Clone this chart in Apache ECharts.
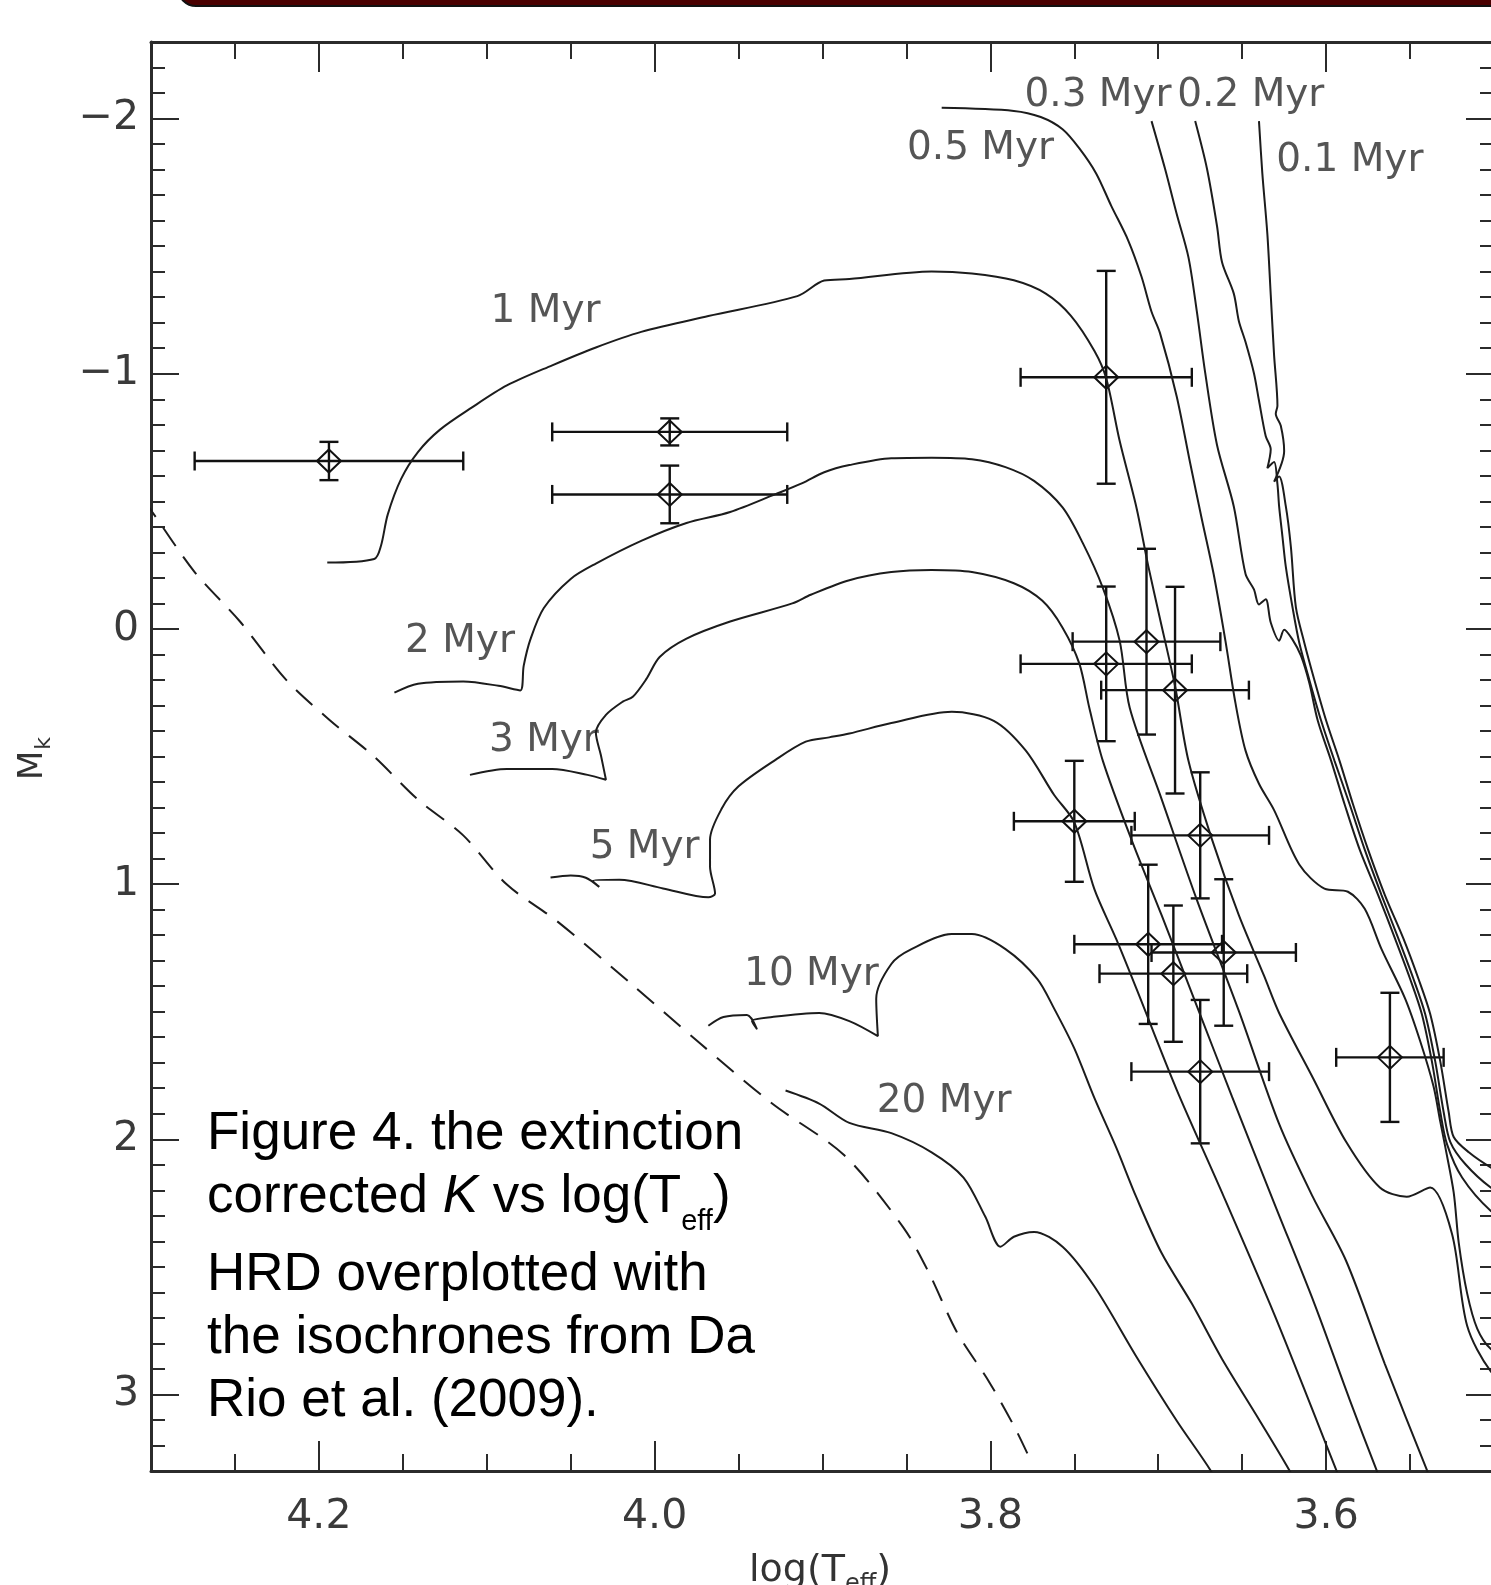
<html>
<head>
<meta charset="utf-8">
<title>HRD isochrones</title>
<script src="https://cdn.jsdelivr.net/npm/echarts@6.0.0/dist/echarts.min.js"></script>
<style>
html, body { margin: 0; padding: 0; background: #fff; }
#container { width: 1491px; height: 1585px; }
</style>
</head>
<body>
<div id="container"></div>
<script type="text/javascript">
// axis ranges (x runs backwards, y is magnitude so it runs downwards)
var xRange = [3.5, 4.3];
var yRange = [-2.3, 3.3];

// isochrones [log(Teff), M_K]
var myr01 = [[3.640,-1.990],[3.638,-1.785],[3.635,-1.547],[3.633,-1.310],[3.631,-1.073],[3.629,-0.875],[3.630,-0.843],[3.627,-0.796],[3.625,-0.697],[3.631,-0.577],[3.628,-0.597],[3.624,-0.480],[3.621,-0.322],[3.618,-0.084],[3.613,0.054],[3.607,0.200],[3.600,0.359],[3.592,0.517],[3.584,0.687],[3.575,0.865],[3.565,1.043],[3.554,1.213],[3.545,1.371],[3.538,1.509],[3.532,1.695],[3.527,1.893],[3.524,1.991],[3.515,2.051],[3.502,2.110],[3.490,2.150]];
var myr02 = [[3.678,-1.990],[3.671,-1.804],[3.665,-1.579],[3.662,-1.437],[3.655,-1.314],[3.652,-1.207],[3.648,-1.124],[3.643,-1.002],[3.640,-0.895],[3.636,-0.756],[3.633,-0.704],[3.635,-0.630],[3.631,-0.654],[3.629,-0.567],[3.628,-0.480],[3.626,-0.361],[3.624,-0.243],[3.620,-0.084],[3.616,0.054],[3.610,0.200],[3.603,0.359],[3.595,0.517],[3.586,0.687],[3.577,0.865],[3.567,1.043],[3.557,1.213],[3.548,1.371],[3.541,1.509],[3.535,1.695],[3.530,1.893],[3.526,2.011],[3.517,2.098],[3.502,2.189],[3.490,2.230]];
var myr03 = [[3.704,-1.990],[3.696,-1.804],[3.689,-1.626],[3.682,-1.456],[3.677,-1.243],[3.672,-1.002],[3.665,-0.721],[3.655,-0.480],[3.648,-0.215],[3.643,-0.155],[3.640,-0.096],[3.636,-0.116],[3.633,-0.025],[3.628,0.046],[3.625,0.003],[3.620,0.042],[3.615,0.105],[3.610,0.212],[3.605,0.359],[3.597,0.517],[3.589,0.687],[3.580,0.865],[3.569,1.043],[3.559,1.213],[3.550,1.371],[3.543,1.509],[3.537,1.695],[3.532,1.893],[3.528,2.019],[3.519,2.150],[3.502,2.280],[3.490,2.320]];
var myr05 = [[3.829,-2.042],[3.786,-2.030],[3.770,-2.006],[3.757,-1.958],[3.747,-1.883],[3.737,-1.785],[3.728,-1.658],[3.718,-1.524],[3.710,-1.381],[3.704,-1.243],[3.699,-1.160],[3.689,-0.911],[3.681,-0.650],[3.674,-0.429],[3.667,-0.215],[3.660,0.046],[3.654,0.291],[3.648,0.477],[3.640,0.607],[3.631,0.710],[3.616,0.923],[3.601,1.018],[3.587,1.030],[3.577,1.097],[3.567,1.255],[3.553,1.448],[3.544,1.615],[3.536,1.793],[3.532,1.931],[3.529,2.031],[3.524,2.209],[3.521,2.406],[3.516,2.604],[3.510,2.742],[3.502,2.821],[3.490,2.860]];
var myr1 = [[4.195,-0.260],[4.167,-0.274],[4.163,-0.326],[4.159,-0.448],[4.151,-0.588],[4.141,-0.693],[4.128,-0.780],[4.109,-0.867],[4.088,-0.954],[4.061,-1.033],[4.035,-1.103],[4.008,-1.164],[3.968,-1.226],[3.915,-1.304],[3.899,-1.365],[3.884,-1.371],[3.835,-1.401],[3.811,-1.393],[3.786,-1.366],[3.767,-1.314],[3.752,-1.227],[3.738,-1.089],[3.731,-0.982],[3.723,-0.737],[3.713,-0.476],[3.706,-0.248],[3.699,-0.041],[3.690,0.224],[3.682,0.517],[3.668,0.825],[3.652,1.122],[3.637,1.359],[3.628,1.505],[3.608,1.758],[3.588,2.011],[3.568,2.189],[3.552,2.225],[3.538,2.189],[3.525,2.371],[3.516,2.731],[3.502,2.909],[3.490,2.960]];
var myr2 = [[4.155,0.250],[4.141,0.215],[4.114,0.206],[4.093,0.223],[4.080,0.241],[4.078,0.145],[4.074,0.041],[4.066,-0.082],[4.050,-0.196],[4.035,-0.256],[4.008,-0.345],[3.981,-0.415],[3.955,-0.458],[3.928,-0.528],[3.912,-0.571],[3.899,-0.614],[3.884,-0.642],[3.859,-0.669],[3.835,-0.671],[3.811,-0.665],[3.791,-0.634],[3.774,-0.580],[3.757,-0.476],[3.745,-0.337],[3.733,-0.161],[3.723,0.046],[3.717,0.309],[3.698,0.667],[3.677,1.062],[3.652,1.497],[3.628,1.940],[3.608,2.225],[3.588,2.478],[3.565,2.881],[3.540,3.296],[3.535,3.376]];
var myr3 = [[4.110,0.572],[4.088,0.549],[4.061,0.549],[4.040,0.572],[4.029,0.591],[4.032,0.495],[4.035,0.406],[4.029,0.337],[4.019,0.285],[4.013,0.266],[4.005,0.197],[3.997,0.110],[3.981,0.038],[3.955,-0.029],[3.918,-0.100],[3.907,-0.134],[3.884,-0.191],[3.859,-0.223],[3.835,-0.231],[3.811,-0.223],[3.786,-0.179],[3.769,-0.110],[3.757,-0.005],[3.747,0.136],[3.741,0.311],[3.733,0.517],[3.716,0.825],[3.698,1.122],[3.677,1.478],[3.656,1.834],[3.631,2.249],[3.607,2.644],[3.586,3.020],[3.570,3.296],[3.565,3.375]];
var myr5 = [[4.062,0.974],[4.050,0.966],[4.041,0.975],[4.033,1.011],[4.037,0.987],[4.021,0.983],[3.995,1.017],[3.968,1.052],[3.964,1.037],[3.967,0.932],[3.967,0.825],[3.960,0.704],[3.950,0.617],[3.928,0.513],[3.910,0.442],[3.896,0.425],[3.884,0.410],[3.859,0.369],[3.823,0.325],[3.798,0.360],[3.779,0.476],[3.762,0.651],[3.750,0.758],[3.738,1.021],[3.725,1.216],[3.713,1.410],[3.689,1.806],[3.662,2.209],[3.631,2.684],[3.607,3.079],[3.594,3.296],[3.589,3.375]];
var myr10 = [[3.968,1.555],[3.959,1.521],[3.945,1.513],[3.939,1.569],[3.942,1.537],[3.930,1.521],[3.902,1.505],[3.884,1.537],[3.867,1.596],[3.868,1.449],[3.859,1.313],[3.847,1.255],[3.823,1.196],[3.811,1.196],[3.791,1.255],[3.772,1.372],[3.762,1.488],[3.750,1.644],[3.738,1.839],[3.725,2.033],[3.713,2.228],[3.698,2.446],[3.680,2.644],[3.662,2.861],[3.640,3.098],[3.622,3.296],[3.616,3.375]];
var myr20 = [[3.922,1.809],[3.902,1.860],[3.884,1.936],[3.859,1.976],[3.835,2.051],[3.816,2.150],[3.803,2.304],[3.794,2.421],[3.786,2.382],[3.774,2.363],[3.757,2.421],[3.738,2.577],[3.713,2.852],[3.689,3.103],[3.669,3.296],[3.663,3.375]];
// dashed main sequence
var zams = [[4.305,-0.507],[4.300,-0.465],[4.274,-0.223],[4.247,-0.029],[4.220,0.196],[4.194,0.355],[4.168,0.495],[4.141,0.669],[4.114,0.809],[4.088,1.002],[4.058,1.146],[4.015,1.385],[3.973,1.624],[3.930,1.860],[3.887,2.063],[3.852,2.344],[3.837,2.518],[3.820,2.755],[3.801,2.948],[3.786,3.123],[3.776,3.259]];

// stars with error bars
var starX    = [4.194, 3.991, 3.991, 3.731, 3.707, 3.731, 3.690, 3.750, 3.675, 3.706, 3.661, 3.691, 3.675, 3.562];
var starY    = [-0.658, -0.772, -0.527, -0.986, 0.050, 0.137, 0.240, 0.754, 0.809, 1.236, 1.268, 1.351, 1.735, 1.679];
var starXErr = [0.080, 0.070, 0.070, 0.051, 0.044, 0.051, 0.044, 0.036, 0.041, 0.044, 0.043, 0.044, 0.041, 0.032];
var starYErr = [0.075, 0.053, 0.113, 0.417, 0.364, 0.303, 0.405, 0.237, 0.247, 0.312, 0.287, 0.267, 0.281, 0.253];

// isochrone labels: text, left edge x, middle y
var isoNames = ['0.3 Myr', '0.2 Myr', '0.5 Myr', '0.1 Myr', '1 Myr', '2 Myr', '3 Myr', '5 Myr', '10 Myr', '20 Myr'];
var isoNameX = [3.780, 3.689, 3.850, 3.630, 4.098, 4.149, 4.099, 4.039, 3.947, 3.868];
var isoNameY = [-2.089, -2.089, -1.883, -1.836, -1.243, 0.052, 0.437, 0.859, 1.355, 1.855];

var caption = [
	[['Figure 4. the extinction', 'n']],
	[['corrected ', 'n'], ['K', 'i'], [' vs log(T', 'n'], ['eff', 's'], [')', 'n']],
	[['HRD overplotted with', 'n']],
	[['the isochrones from Da', 'n']],
	[['Rio et al. (2009).', 'n']]
];

var ink = '#1c1c1c';
var mctx = document.createElement('canvas').getContext('2d');
function textW(str, font) { mctx.font = font; return mctx.measureText(str).width; }

// caption pieces laid out by measured widths
var capFonts = {
	n: '53px "Liberation Sans", Arial, sans-serif',
	i: 'italic 53px "Liberation Sans", Arial, sans-serif',
	s: '29px "Liberation Sans", Arial, sans-serif'
};
var capBase = [1153, 1216, 1294, 1357, 1420];
var graphics = [{
	type: 'rect',
	shape: { x: 178, y: -30, width: 1400, height: 36, r: 24 },
	style: { fill: '#4a0000', stroke: '#111', lineWidth: 2 }
}];
caption.forEach(function (line, li) {
	var cx = 207;
	line.forEach(function (seg) {
		var f = capFonts[seg[1]];
		var size = seg[1] === 's' ? 29 : 53;
		var base = capBase[li] + (seg[1] === 's' ? 16 : 0);
		graphics.push({
			type: 'text', x: cx, y: base - 0.35 * size,
			style: { text: seg[0], font: f, fill: '#000', align: 'left', verticalAlign: 'middle' }
		});
		cx += textW(seg[0], f);
	});
});

// axis titles
var tFont = '38px "DejaVu Sans", sans-serif';
var tSub = '24px "DejaVu Sans", sans-serif';
var lx = 749;
graphics.push({ type: 'text', x: lx, y: 1584 - 0.35 * 38, style: { text: 'log(T', font: tFont, fill: '#333', verticalAlign: 'middle' } });
lx += textW('log(T', tFont);
graphics.push({ type: 'text', x: lx, y: 1593 - 0.35 * 24, style: { text: 'eff', font: tSub, fill: '#333', verticalAlign: 'middle' } });
lx += textW('eff', tSub);
graphics.push({ type: 'text', x: lx, y: 1584 - 0.35 * 38, style: { text: ')', font: tFont, fill: '#333', verticalAlign: 'middle' } });

var mFont = '34px "DejaVu Sans", sans-serif';
var kFont = '22px "DejaVu Sans", sans-serif';
graphics.push({
	type: 'group', x: 45, y: 780, rotation: Math.PI / 2,
	children: [
		{ type: 'text', x: 0, y: -0.35 * 34, style: { text: 'M', font: mFont, fill: '#333', verticalAlign: 'middle' } },
		{ type: 'text', x: textW('M', mFont) + 1, y: 7 - 0.35 * 22, style: { text: 'k', font: kFont, fill: '#333', verticalAlign: 'middle' } }
	]
});

function lineSeries(data, dashed) {
	return {
		type: 'line', data: data, symbol: 'none', silent: true, clip: true, smooth: 0.3,
		lineStyle: { color: ink, width: 2, type: dashed ? [22, 13] : 'solid' }
	};
}

function axisX(pos) {
	return {
		type: 'value', position: pos, min: xRange[0], max: xRange[1], inverse: true, splitNumber: 4,
		axisLine: { show: true, onZero: false, lineStyle: { color: '#2b2b2b', width: 3 } },
		axisTick: { show: true, inside: true, length: 30, lineStyle: { color: '#2b2b2b', width: 2 } },
		minorTick: { show: true, splitNumber: 4, length: 17, lineStyle: { color: '#2b2b2b', width: 2 } },
		splitLine: { show: false },
		axisLabel: {
			show: pos === 'bottom', margin: 26, showMinLabel: false, showMaxLabel: false,
			fontFamily: 'DejaVu Sans', fontSize: 41, color: '#3a3a3a',
			formatter: function (v) { return v.toFixed(1); }
		}
	};
}
function axisY(pos) {
	return {
		type: 'value', position: pos, min: yRange[0], max: yRange[1], inverse: true, splitNumber: 5,
		axisLine: { show: true, onZero: false, lineStyle: { color: '#2b2b2b', width: 3 } },
		axisTick: { show: true, inside: true, length: 28, lineStyle: { color: '#2b2b2b', width: 2 } },
		minorTick: { show: true, splitNumber: 10, length: 14, lineStyle: { color: '#2b2b2b', width: 2 } },
		splitLine: { show: false },
		axisLabel: {
			show: pos === 'left', margin: 12, showMinLabel: false, showMaxLabel: false,
			fontFamily: 'DejaVu Sans', fontSize: 41, color: '#3a3a3a',
			formatter: function (v) { return v < 0 ? '\u2212' + Math.abs(v) : String(v); }
		}
	};
}

var dom = document.getElementById("container");
var myChart = echarts.init(dom, null, { renderer: 'canvas' });
var option = {
	animation: false,
	backgroundColor: '#fff',
	grid: { left: 151, right: -3, top: 42, bottom: 114, containLabel: false, outerBoundsMode: 'none' },
	xAxis: [axisX('bottom'), axisX('top')],
	yAxis: [axisY('left'), axisY('right')],
	graphic: { elements: graphics },
	series: [
		lineSeries(myr01), lineSeries(myr02), lineSeries(myr03), lineSeries(myr05),
		lineSeries(myr1), lineSeries(myr2), lineSeries(myr3), lineSeries(myr5),
		lineSeries(myr10), lineSeries(myr20), lineSeries(zams, true),
		{
			type: 'custom',
			silent: true,
			data: starX.map(function (x, i) { return [x, starY[i], starXErr[i], starYErr[i]]; }),
			encode: { x: 0, y: 1 },
			renderItem: function (params, api) {
				var x = api.value(0), y = api.value(1), ex = api.value(2), ey = api.value(3);
				var c = api.coord([x, y]);
				var a = api.coord([x + ex, y]), b = api.coord([x - ex, y]);
				var t = api.coord([x, y - ey]), d = api.coord([x, y + ey]);
				var x1 = Math.min(a[0], b[0]), x2 = Math.max(a[0], b[0]);
				var y1 = Math.min(t[1], d[1]), y2 = Math.max(t[1], d[1]);
				var st = { stroke: '#111', lineWidth: 2.4, fill: null };
				var cx = 9.5, cy = 9.5, hw = 12, hh = 11.5;
				return {
					type: 'group',
					children: [
						{ type: 'line', shape: { x1: x1, y1: c[1], x2: x2, y2: c[1] }, style: st },
						{ type: 'line', shape: { x1: x1, y1: c[1] - cx, x2: x1, y2: c[1] + cx }, style: st },
						{ type: 'line', shape: { x1: x2, y1: c[1] - cx, x2: x2, y2: c[1] + cx }, style: st },
						{ type: 'line', shape: { x1: c[0], y1: y1, x2: c[0], y2: y2 }, style: st },
						{ type: 'line', shape: { x1: c[0] - cy, y1: y1, x2: c[0] + cy, y2: y1 }, style: st },
						{ type: 'line', shape: { x1: c[0] - cy, y1: y2, x2: c[0] + cy, y2: y2 }, style: st },
						{ type: 'polygon', shape: { points: [[c[0], c[1] - hh], [c[0] + hw, c[1]], [c[0], c[1] + hh], [c[0] - hw, c[1]]] },
						  style: { stroke: '#111', lineWidth: 2, fill: null } }
					]
				};
			}
		},
		{
			type: 'scatter',
			silent: true,
			symbolSize: 1,
			itemStyle: { color: 'rgba(0,0,0,0)' },
			data: isoNames.map(function (n, i) { return { name: n, value: [isoNameX[i], isoNameY[i]] }; }),
			label: {
				show: true, position: 'right', distance: 0, formatter: '{b}',
				fontFamily: 'DejaVu Sans', fontSize: 39, color: '#2a2a2a'
			}
		}
	]
};
if (option && typeof option === 'object') {
	myChart.setOption(option);
}
</script>
</body>
</html>
